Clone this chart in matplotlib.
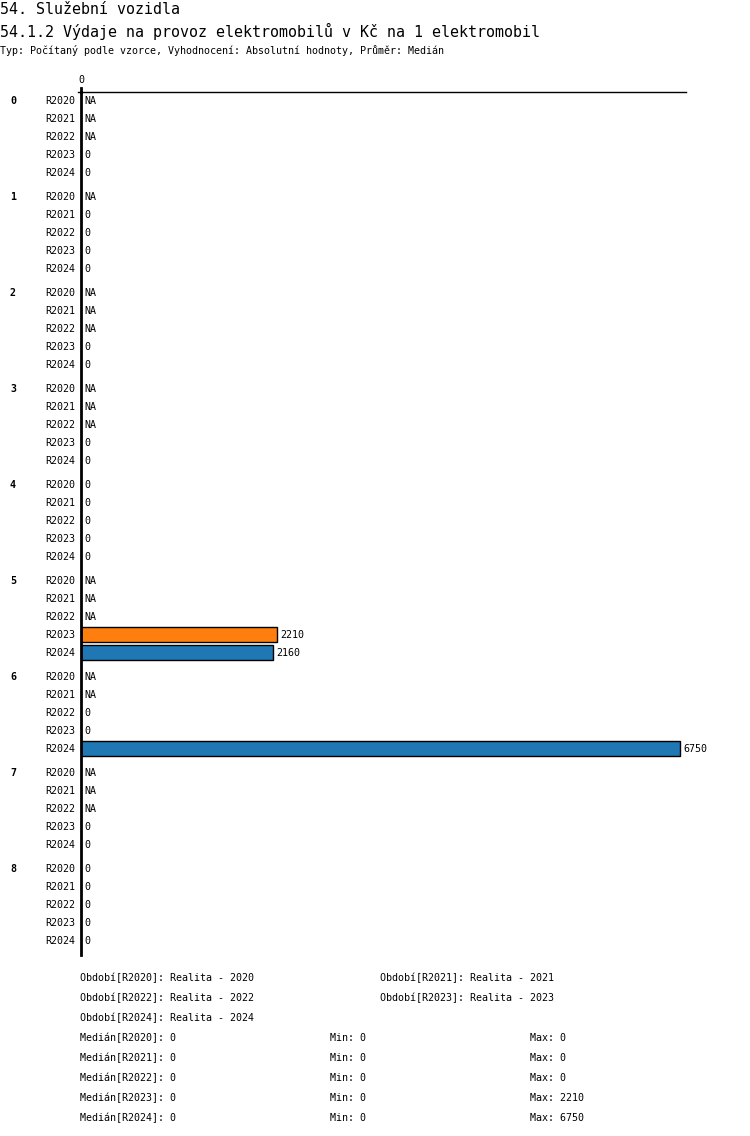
import numpy as np
import matplotlib.pyplot as plt

# hodnoty z grafu (None = NA)
groups = ['0', '1', '2', '3', '4', '5', '6', '7', '8']
periods = ['R2020', 'R2021', 'R2022', 'R2023', 'R2024']
vals = [
    [None, None, None, 0, 0],
    [None, 0, 0, 0, 0],
    [None, None, None, 0, 0],
    [None, None, None, 0, 0],
    [0, 0, 0, 0, 0],
    [None, None, None, 2210, 2160],
    [None, None, 0, 0, 6750],
    [None, None, None, 0, 0],
    [0, 0, 0, 0, 0],
]
bar_colors = ['#1f77b4', '#1f77b4', '#1f77b4', '#ff7f0e', '#1f77b4']

legend_rows = [
    ('Období[R2020]: Realita - 2020', 'Období[R2021]: Realita - 2021'),
    ('Období[R2022]: Realita - 2022', 'Období[R2023]: Realita - 2023'),
    ('Období[R2024]: Realita - 2024', ''),
]
median_vals = [0, 0, 0, 0, 0]
min_vals = [0, 0, 0, 0, 0]
max_vals = [0, 0, 0, 2210, 6750]

title1 = '54. Služební vozidla'
title2 = '54.1.2 Výdaje na provoz elektromobilů v Kč na 1 elektromobil'
subtitle = 'Typ: Počítaný podle vzorce, Vyhodnocení: Absolutní hodnoty, Průměr: Medián'

mono = ['DejaVu Sans Mono']
W, H = 750, 1136
fig = plt.figure(figsize=(W / 100, H / 100), dpi=100)

def px(x, y, s, size=7.2, **kw):
    fig.text(x / W, 1 - y / H, s, fontsize=size, family=mono, va='center', **kw)

px(0, 10, title1, size=10.8)
px(0, 31, title2, size=10.8)
px(0, 51, subtitle)

# osa: pixely 81..686 vodorovne, 88..955 svisle
ax_l, ax_r, ax_t, ax_b = 81, 686, 92, 955
ax = fig.add_axes([ax_l / W, 1 - ax_b / H, (ax_r - ax_l) / W, (ax_b - ax_t) / H])
xmax = 6750 * (ax_r - ax_l) / 599.0
ax.set_xlim(0, xmax)
ax.set_ylim(ax_b, ax_t)
for s in ['right', 'bottom']:
    ax.spines[s].set_visible(False)
ax.spines['left'].set_linewidth(2)
ax.spines['top'].set_linewidth(1)
ax.set_xticks([])
ax.set_yticks([])
ax.patch.set_alpha(0)

row_h, group_gap, y0 = 18, 6, 101
for g, name in enumerate(groups):
    for r, per in enumerate(periods):
        y = y0 + g * (len(periods) * row_h + group_gap) + r * row_h
        v = vals[g][r]
        if r == 0:
            px(10, y, name, fontweight='bold')
        px(75, y, per, ha='right')
        if v is None:
            px(84, y, 'NA')
        elif v == 0:
            px(84, y, '0')
        else:
            ax.barh(y - 1, v, height=15, color=bar_colors[r], edgecolor='black', linewidth=1)
            ax.text(v + 40, y, str(v), fontsize=7.2, family=mono, va='center')

px(81, 80, '0', ha='center')
ax.plot([-0.005 * xmax, 0], [ax_t, ax_t], color='black', lw=1, clip_on=False)
ax.plot([0, 0], [ax_t - 4, ax_t], color='black', lw=2, clip_on=False)

yy = 978
for a, b in legend_rows:
    px(80, yy, a)
    if b:
        px(380, yy, b)
    yy += 20
for i, per in enumerate(periods):
    px(80, yy, f'Medián[{per}]: {median_vals[i]}')
    px(330, yy, f'Min: {min_vals[i]}')
    px(530, yy, f'Max: {max_vals[i]}')
    yy += 20

fig.savefig('out.png', dpi=100)
